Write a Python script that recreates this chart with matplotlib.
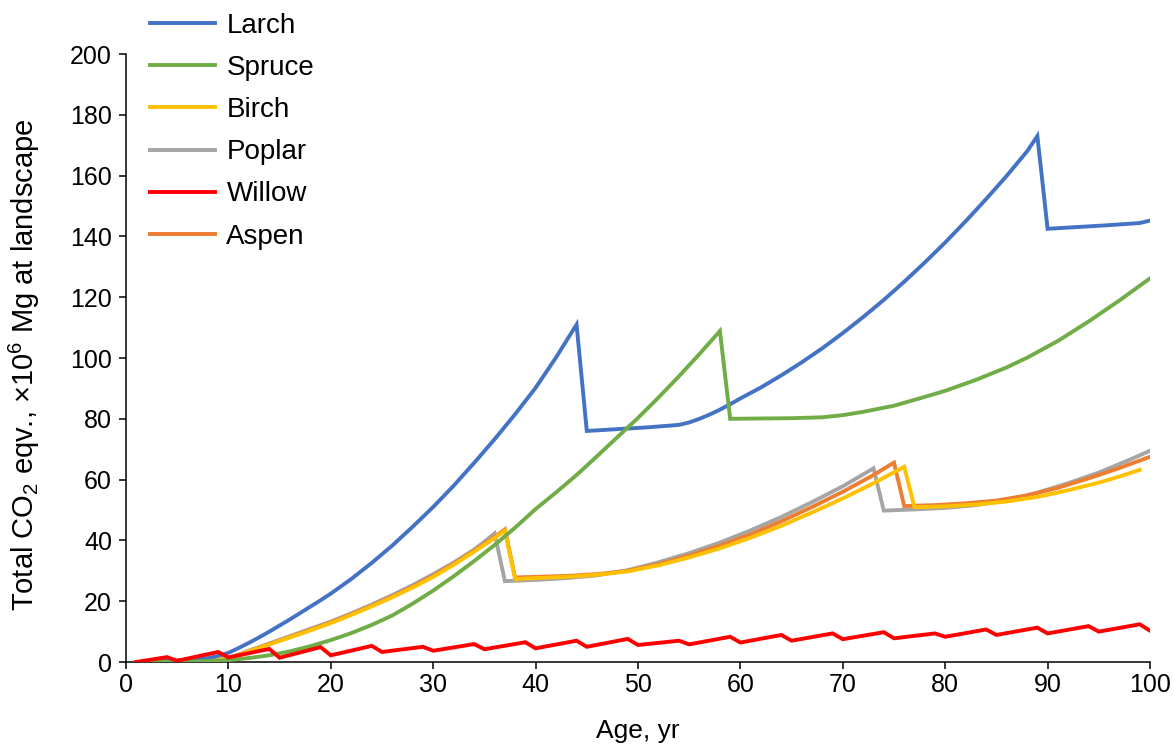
import matplotlib
matplotlib.use("Agg")
import matplotlib.pyplot as plt

plt.rcParams['font.family'] = ['Liberation Sans', 'DejaVu Sans']
plt.rcParams['mathtext.fontset'] = 'custom'
plt.rcParams['mathtext.rm'] = 'Liberation Sans'
plt.rcParams['mathtext.it'] = 'Liberation Sans:italic'

# ---------------- data ----------------
larch_age = [1, 3, 5, 7, 8, 9, 10, 11, 12, 13, 14, 15, 16, 17, 18, 19, 20, 22, 24, 26, 28, 30,
             32, 34, 36, 38, 40, 42, 44, 45, 48, 51, 54, 55, 56, 57, 58, 59, 60, 62, 64, 66, 68,
             70, 72, 74, 76, 78, 80, 82, 84, 86, 88, 89, 90, 93, 96, 99, 100]
larch_val = [0, 0.2, 0.5, 0.9, 1.3, 2.0, 3.0, 4.6, 6.3, 8.1, 10.0, 12.0, 14.0, 16.1, 18.2, 20.3,
             22.5, 27.3, 32.6, 38.3, 44.5, 51.0, 58.0, 65.5, 73.3, 81.5, 90.2, 100.2, 111.0,
             76.0, 76.6, 77.2, 78.0, 78.8, 80.0, 81.4, 83.0, 84.8, 86.7, 90.3, 94.3, 98.6, 103.2,
             108.2, 113.5, 119.1, 125.1, 131.4, 138.0, 145.0, 152.3, 159.9, 168.0, 173.0,
             142.5, 143.1, 143.7, 144.4, 145.2]

spruce_age = [1, 3, 5, 7, 9, 10, 12, 14, 16, 18, 20, 22, 24, 26, 28, 30, 32, 34, 36, 38, 40, 42,
              44, 46, 48, 50, 52, 54, 56, 58, 59, 62, 65, 68, 70, 72, 75, 78, 80, 83, 86, 88, 91,
              94, 97, 100]
spruce_val = [0, 0.05, 0.1, 0.2, 0.4, 0.6, 1.3, 2.2, 3.5, 5.2, 7.2, 9.5, 12.2, 15.3, 19.2, 23.5,
              28.2, 33.2, 38.5, 44.2, 50.3, 55.8, 61.5, 67.7, 74.0, 80.3, 87.0, 94.0, 101.3,
              108.9, 80.0, 80.1, 80.2, 80.5, 81.2, 82.3, 84.3, 87.2, 89.2, 92.8, 96.9, 100.1,
              105.6, 112.0, 118.9, 126.2]

birch_age = [1, 3, 5, 7, 9, 10, 11, 12, 14, 16, 18, 20, 22, 24, 26, 28, 30, 32, 34, 36, 37, 38,
             40, 43, 46, 49, 52, 55, 58, 61, 64, 67, 70, 73, 76, 77, 80, 83, 86, 89, 92, 95, 97, 99]
birch_val = [0, 0.05, 0.15, 0.3, 0.6, 1.2, 2.3, 3.5, 5.8, 8.1, 10.4, 12.8, 15.5, 18.3, 21.3, 24.5,
             28.0, 32.0, 36.3, 40.8, 43.2, 27.3, 27.6, 28.0, 28.7, 29.8, 31.8, 34.4, 37.4, 40.9,
             44.8, 49.2, 53.8, 58.8, 64.2, 50.9, 51.2, 51.8, 52.8, 54.3, 56.5, 59.0, 61.0, 63.2]

poplar_age = [1, 5, 9, 10, 12, 14, 16, 18, 20, 22, 24, 26, 28, 30, 32, 34, 35, 36, 37, 40, 43,
              46, 49, 52, 55, 58, 61, 64, 67, 70, 73, 74, 77, 80, 83, 86, 89, 92, 95, 98, 100]
poplar_val = [0, 0.15, 0.6, 1.3, 3.7, 6.1, 8.5, 10.9, 13.3, 16.0, 18.9, 22.0, 25.3, 28.9, 32.7,
              37.0, 39.6, 42.3, 26.6, 27.0, 27.6, 28.5, 30.2, 32.8, 35.8, 39.3, 43.3, 47.7, 52.6,
              57.8, 63.7, 49.8, 50.2, 50.7, 51.6, 53.2, 55.7, 58.8, 62.3, 66.5, 69.5]

willow_age = [1, 4, 5, 9, 10, 14, 15, 19, 20, 24, 25, 29, 30, 34, 35, 39, 40, 44, 45, 49, 50,
              54, 55, 59, 60, 64, 65, 69, 70, 74, 75, 79, 80, 84, 85, 89, 90, 94, 95, 99, 100]
willow_val = [0, 1.6, 0.4, 3.3, 1.5, 4.3, 1.4, 4.9, 2.2, 5.3, 3.3, 5.0, 3.7, 5.9, 4.2, 6.5, 4.5,
              7.0, 5.0, 7.6, 5.6, 7.0, 5.8, 8.3, 6.4, 8.9, 7.0, 9.4, 7.5, 9.8, 7.8, 9.4, 8.3,
              10.7, 8.9, 11.3, 9.4, 11.8, 10.0, 12.4, 10.3]

aspen_age = [1, 3, 5, 7, 9, 10, 11, 12, 14, 16, 18, 20, 22, 24, 26, 28, 30, 32, 34, 36, 37, 38,
             40, 43, 46, 49, 52, 55, 58, 61, 64, 67, 70, 73, 75, 76, 79, 82, 85, 88, 91, 94, 97, 100]
aspen_val = [0, 0.05, 0.15, 0.3, 0.6, 1.2, 2.3, 3.6, 5.9, 8.2, 10.6, 13.0, 15.7, 18.5, 21.5, 24.8,
             28.3, 32.3, 36.6, 41.1, 43.6, 27.8, 28.0, 28.3, 28.9, 30.0, 32.2, 35.0, 38.3, 42.0,
             46.3, 51.0, 56.0, 61.5, 65.6, 51.3, 51.6, 52.2, 53.1, 54.8, 57.3, 60.4, 63.8, 67.5]

series_names = ["Larch", "Spruce", "Birch", "Poplar", "Willow", "Aspen"]
x_ticks = list(range(0, 101, 10))
y_ticks = list(range(0, 201, 20))

# ---------------- plot ----------------
W, H = 1174, 746
fig = plt.figure(figsize=(W / 100, H / 100), dpi=100)
ax = fig.add_axes([126 / W, 84 / H, (1150 - 126) / W, (662 - 54) / H])

lw = 2.8
series = [
    (larch_age, larch_val, "#4472C4", 5),
    (spruce_age, spruce_val, "#70AD47", 6),
    (birch_age, birch_val, "#FFC000", 4),
    (poplar_age, poplar_val, "#A5A5A5", 2),
    (willow_age, willow_val, "#FF0000", 7),
    (aspen_age, aspen_val, "#ED7D31", 3),
]
handles = []
for (xa, ya, c, z), name in zip(series, series_names):
    h, = ax.plot(xa, ya, color=c, lw=lw, zorder=z, label=name, solid_joinstyle='miter')
    handles.append(h)

ax.set_xlim(0, 100)
ax.set_ylim(0, 200)
ax.set_xticks(x_ticks)
ax.set_yticks(y_ticks)
ax.spines['top'].set_visible(False)
ax.spines['right'].set_visible(False)
for s in ['left', 'bottom']:
    ax.spines[s].set_linewidth(1.1)
    ax.spines[s].set_color('#000000')
ax.tick_params(axis='both', direction='out', length=5, width=1.1, labelsize=18, colors='#000000')
ax.tick_params(axis='y', pad=5)
ax.tick_params(axis='x', pad=3)

ax.set_ylabel(r"Total CO$_\mathrm{2}$ eqv., ×10$^\mathrm{6}$ Mg at landscape", fontsize=21)
ax.yaxis.set_label_coords((42 - 126) / 1024, (662 - 365) / 608)
ax.set_xlabel("Age, yr", fontsize=19, va='top')
ax.xaxis.set_label_coords(0.5, (662 - 719) / 608)

fig.legend(handles, series_names, loc='upper left', bbox_to_anchor=(150 / W, 1 - 13 / H),
           frameon=False, fontsize=20, handlelength=2.35, handletextpad=0.4,
           labelspacing=0.58, borderpad=0, borderaxespad=0)

fig.savefig("out.png", dpi=100)
